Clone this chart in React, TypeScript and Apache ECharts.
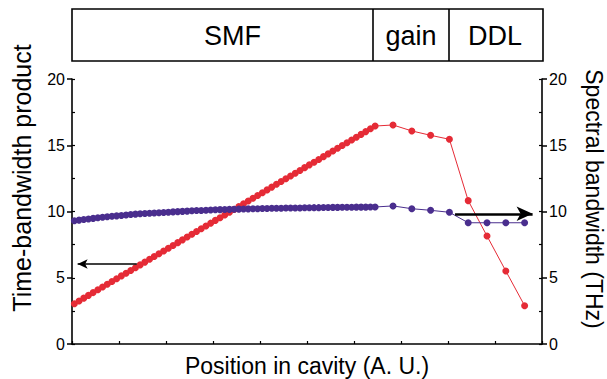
import React, { useEffect, useRef } from "react";
import * as echarts from "echarts";

// Position along the cavity (arbitrary units)
const positions: number[] = [
  0.05, 0.15, 0.25, 0.35, 0.45, 0.55, 0.65, 0.75, 0.85, 0.95,
  1.05, 1.15, 1.25, 1.35, 1.45, 1.55, 1.65, 1.75, 1.85, 1.95,
  2.05, 2.15, 2.25, 2.35, 2.45, 2.55, 2.65, 2.75, 2.85, 2.95,
  3.05, 3.15, 3.25, 3.35, 3.45, 3.55, 3.65, 3.75, 3.85, 3.95,
  4.05, 4.15, 4.25, 4.35, 4.45, 4.55, 4.65, 4.75, 4.85, 4.95,
  5.05, 5.15, 5.25, 5.35, 5.45, 5.55, 5.65, 5.75, 5.85, 5.95,
  6.05, 6.15, 6.25, 6.35, 6.45,
  6.83, 7.23, 7.63, 8.03,
  8.43, 8.83, 9.23, 9.63,
];

// Time-bandwidth product (left axis)
const timeBandwidth: number[] = [
  3.04, 3.25, 3.46, 3.67, 3.88, 4.09, 4.3, 4.51, 4.72, 4.93,
  5.14, 5.34, 5.55, 5.76, 5.97, 6.18, 6.39, 6.6, 6.81, 7.02,
  7.23, 7.44, 7.65, 7.86, 8.07, 8.28, 8.49, 8.7, 8.91, 9.12,
  9.33, 9.53, 9.74, 9.95, 10.16, 10.37, 10.58, 10.79, 11.0, 11.21,
  11.42, 11.63, 11.84, 12.05, 12.26, 12.47, 12.68, 12.89, 13.1, 13.31,
  13.52, 13.72, 13.93, 14.14, 14.35, 14.56, 14.77, 14.98, 15.19, 15.4,
  15.61, 15.82, 16.03, 16.24, 16.45,
  16.53, 16.08, 15.75, 15.45,
  10.82, 8.15, 5.51, 2.89,
];

// Spectral bandwidth in THz (right axis)
const spectralBandwidth: number[] = [
  9.3, 9.35, 9.39, 9.44, 9.48, 9.53, 9.57, 9.61, 9.64, 9.67,
  9.7, 9.74, 9.77, 9.8, 9.83, 9.85, 9.87, 9.89, 9.91, 9.93,
  9.95, 9.97, 9.99, 10.01, 10.03, 10.05, 10.07, 10.08, 10.1, 10.11,
  10.13, 10.14, 10.15, 10.16, 10.17, 10.18, 10.19, 10.2, 10.21, 10.21,
  10.22, 10.23, 10.24, 10.24, 10.25, 10.26, 10.26, 10.27, 10.27, 10.28,
  10.28, 10.29, 10.29, 10.3, 10.3, 10.31, 10.31, 10.32, 10.32, 10.32,
  10.33, 10.33, 10.33, 10.34, 10.34,
  10.42, 10.21, 10.09, 9.94,
  9.15, 9.15, 9.15, 9.15,
];

const sectionNames: string[] = ["SMF", "gain", "DDL"];
const yTicks: number[] = [0, 5, 10, 15, 20];

const RED = "#e52b36";
const BLUE = "#4a2e8e";
const FONT = "Liberation Sans, Arial, Helvetica, sans-serif";

export default function App() {
  const ref = useRef<HTMLDivElement>(null);

  useEffect(() => {
    if (!ref.current) return;
    const chart = echarts.init(ref.current, null, { renderer: "svg" });

    const redData = positions.map((x, i) => [x, timeBandwidth[i]]);
    const blueData = positions.map((x, i) => [x, spectralBandwidth[i]]);

    const gridLeft = 72;
    const gridRight = 65;
    const gridTop = 79;
    const gridBottom = 35;

    const valueAxisBase = {
      type: "value" as const,
      min: yTicks[0],
      max: yTicks[yTicks.length - 1],
      interval: 5,
      splitLine: { show: false },
    };

    // Section boxes on top (pixel layout)
    const boxEdges = [72, 373, 449, 543];
    const boxTop = 9;
    const boxH = 52;
    const graphics: any[] = [];
    graphics.push({
      type: "rect",
      shape: { x: boxEdges[0], y: boxTop, width: boxEdges[3] - boxEdges[0], height: boxH },
      style: { fill: "#fff", stroke: "#000", lineWidth: 1.6 },
    });
    for (let i = 1; i < boxEdges.length - 1; i++) {
      graphics.push({
        type: "line",
        shape: { x1: boxEdges[i], y1: boxTop, x2: boxEdges[i], y2: boxTop + boxH },
        style: { stroke: "#000", lineWidth: 1.6 },
      });
    }
    const labelOffsets = [10, 0, -1];
    sectionNames.forEach((name, i) => {
      graphics.push({
        type: "text",
        x: (boxEdges[i] + boxEdges[i + 1]) / 2 + labelOffsets[i],
        y: boxTop + boxH / 2 + 1,
        style: {
          text: name,
          fill: "#000",
          font: `27px ${FONT}`,
          align: "center",
          verticalAlign: "middle",
        },
      });
    });
    graphics.push({
      type: "text",
      x: 22,
      y: 178,
      rotation: Math.PI / 2,
      style: {
        text: "Time-bandwidth product",
        fill: "#000",
        font: `25px ${FONT}`,
        align: "center",
        verticalAlign: "middle",
      },
    });
    graphics.push({
      type: "text",
      x: 594,
      y: 199,
      rotation: -Math.PI / 2,
      style: {
        text: "Spectral bandwidth (THz)",
        fill: "#000",
        font: `23px ${FONT}`,
        align: "center",
        verticalAlign: "middle",
      },
    });
    graphics.push({
      type: "text",
      x: 307,
      y: 366,
      style: {
        text: "Position in cavity (A. U.)",
        fill: "#000",
        font: `23px ${FONT}`,
        align: "center",
        verticalAlign: "middle",
      },
    });

    chart.setOption({
      animation: false,
      backgroundColor: "#fff",
      grid: { left: gridLeft, right: gridRight, top: gridTop, bottom: gridBottom },
      xAxis: [
        {
          type: "value",
          min: 0,
          max: 10,
          interval: 1,
          axisLine: { show: true, onZero: false, lineStyle: { color: "#000", width: 1.6 } },
          axisTick: { show: true, inside: true, length: 3, lineStyle: { color: "#000", width: 1.2 } },
          axisLabel: { show: false },
          splitLine: { show: false },
        },
      ],
      yAxis: [
        {
          ...valueAxisBase,
          position: "left",
          axisLine: { show: true, lineStyle: { color: "#000", width: 1.6 } },
          axisTick: { show: true, inside: false, length: 5, lineStyle: { color: "#000", width: 1.5 } },
          axisLabel: { show: true, color: "#000", fontSize: 16, fontFamily: FONT, margin: 7 },
        },
        {
          ...valueAxisBase,
          position: "right",
          axisLine: { show: true, lineStyle: { color: "#000", width: 1.6 } },
          axisTick: { show: true, inside: false, length: 5, lineStyle: { color: "#000", width: 1.5 } },
          axisLabel: { show: true, color: "#000", fontSize: 16, fontFamily: FONT, margin: 7 },
        },
        {
          ...valueAxisBase,
          interval: 2.5,
          position: "left",
          axisLine: { show: false },
          axisTick: { show: true, inside: true, length: 3, lineStyle: { color: "#000", width: 1.2 } },
          axisLabel: { show: false },
        },
        {
          ...valueAxisBase,
          interval: 2.5,
          position: "right",
          axisLine: { show: false },
          axisTick: { show: true, inside: true, length: 3, lineStyle: { color: "#000", width: 1.2 } },
          axisLabel: { show: false },
        },
      ],
      graphic: graphics,
      series: [
        {
          name: "Time-bandwidth product",
          type: "line",
          yAxisIndex: 0,
          data: redData,
          symbol: "circle",
          symbolSize: 7,
          showAllSymbol: true,
          itemStyle: { color: RED },
          lineStyle: { color: RED, width: 1 },
          z: 2,
          markLine: {
            silent: true,
            symbol: ["none", "arrow"],
            symbolSize: [7, 10],
            label: { show: false },
            emphasis: { disabled: true },
            lineStyle: { color: "#000", width: 1.5, type: "solid" },
            data: [[{ coord: [1.38, 6.04] }, { coord: [0.12, 6.04] }]],
          },
        },
        {
          name: "Spectral bandwidth",
          type: "line",
          yAxisIndex: 1,
          data: blueData,
          symbol: "circle",
          symbolSize: 7,
          showAllSymbol: true,
          itemStyle: { color: BLUE },
          lineStyle: { color: BLUE, width: 1 },
          z: 3,
          markLine: {
            silent: true,
            symbol: ["none", "arrow"],
            symbolSize: [11, 16],
            label: { show: false },
            emphasis: { disabled: true },
            lineStyle: { color: "#000", width: 2.5, type: "solid" },
            data: [[{ coord: [8.15, 9.83] }, { coord: [9.8, 9.83] }]],
          },
        },
      ],
    });

    return () => chart.dispose();
  }, []);

  return (
    <div
      ref={ref}
      style={{ position: "absolute", left: 0, top: 0, width: 607, height: 379 }}
    />
  );
}
